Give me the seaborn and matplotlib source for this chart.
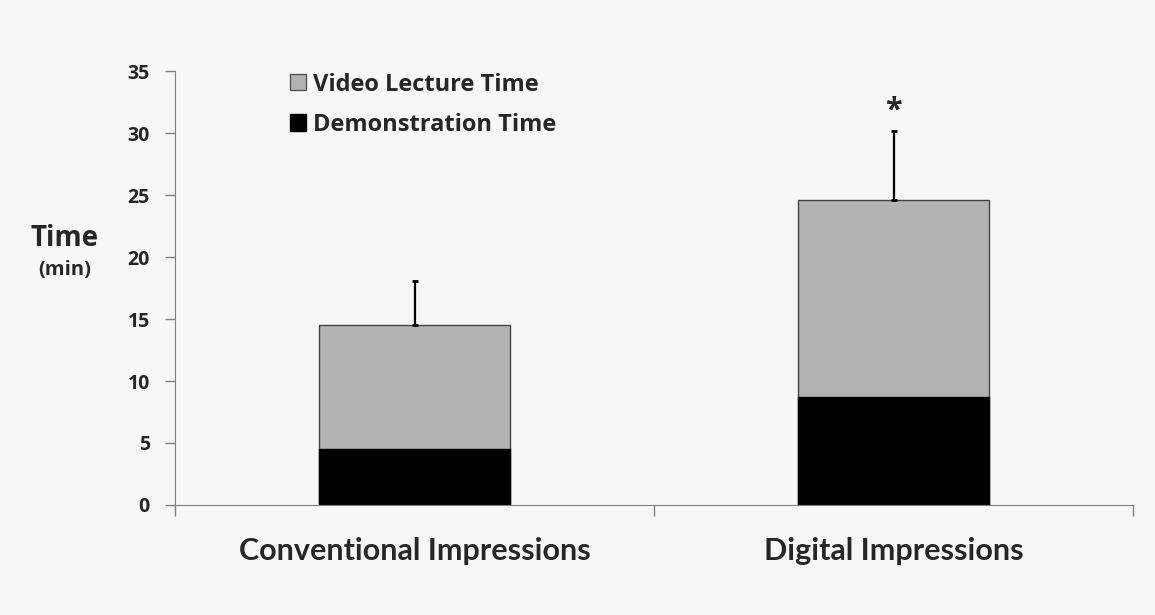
import pandas as pd
import seaborn as sns
import matplotlib.pyplot as plt
from matplotlib.patches import Patch

# values (minutes)
groups = ["Conventional Impressions", "Digital Impressions"]
demo_time = [4.5, 8.7]
video_time = [10.0, 15.9]
total_sd = [3.6, 5.6]
sig_marks = ["", "*"]

df = pd.DataFrame({
    "group": groups,
    "demo": demo_time,
    "video": video_time,
})
df["total"] = df["demo"] + df["video"]

bg = "#f7f7f7"
sns.set_style("ticks")
plt.rcParams["font.family"] = ["Open Sans", "DejaVu Sans"]

fig = plt.figure(figsize=(11.55, 6.15), dpi=100, facecolor=bg)
ax = fig.add_axes([0.1515, 0.179, 0.8295, 0.705])
ax.set_facecolor(bg)

# stacked bars: total (gray) first, then demonstration (black) on top
sns.barplot(data=df, x="group", y="total", color="#b3b3b3", width=0.4,
            edgecolor="#444444", linewidth=1.0, saturation=1, ax=ax)
sns.barplot(data=df, x="group", y="demo", color="black", width=0.4,
            edgecolor="black", linewidth=1.0, saturation=1, ax=ax)

# upper error bars only
ax.errorbar(range(len(groups)), df["total"], yerr=[[0, 0], total_sd],
            fmt="none", ecolor="black", elinewidth=1.6, capsize=2.5, capthick=2)
for i, m in enumerate(sig_marks):
    if m:
        ax.text(i, df["total"][i] + total_sd[i] + 1.6, m, ha="center", va="center",
                fontsize=22, fontweight="bold")

ax.set_xlim(-0.5, 1.5)
ax.set_ylim(0, 35)
ax.set_yticks(range(0, 36, 5))
ax.set_xticks([0, 1])
ax.set_xticklabels(groups, fontsize=22, fontweight="bold", family=["Lato", "DejaVu Sans"])
ax.set_xticks([-0.5, 0.5, 1.5], minor=True)
ax.tick_params(axis="x", which="major", length=0, pad=23)
ax.tick_params(axis="x", which="minor", length=8, color="#808080", width=1)
ax.tick_params(axis="y", length=7, color="#808080", width=1, labelsize=14, pad=11)
for lab in ax.get_yticklabels():
    lab.set_fontweight("bold")
ax.set_xlabel("")
ax.set_ylabel("")
sns.despine(ax=ax)
ax.spines["left"].set_color("#808080")
ax.spines["bottom"].set_color("#808080")

fig.text(0.056, 0.613, "Time", ha="center", va="center", fontsize=20, fontweight="bold")
fig.text(0.056, 0.561, "(min)", ha="center", va="center", fontsize=14.5, fontweight="bold")

handles = [Patch(facecolor="#b3b3b3", edgecolor="#555555", label="Video Lecture Time"),
           Patch(facecolor="black", edgecolor="black", label="Demonstration Time")]
ax.legend(handles=handles, loc="upper left", bbox_to_anchor=(0.12, 0.997), frameon=False,
          prop={"size": 17, "weight": "bold"}, handlelength=0.68, handleheight=0.68,
          handletextpad=0.3, labelspacing=0.68, borderpad=0, borderaxespad=0)

fig.savefig("out.png", dpi=100, facecolor=bg)
